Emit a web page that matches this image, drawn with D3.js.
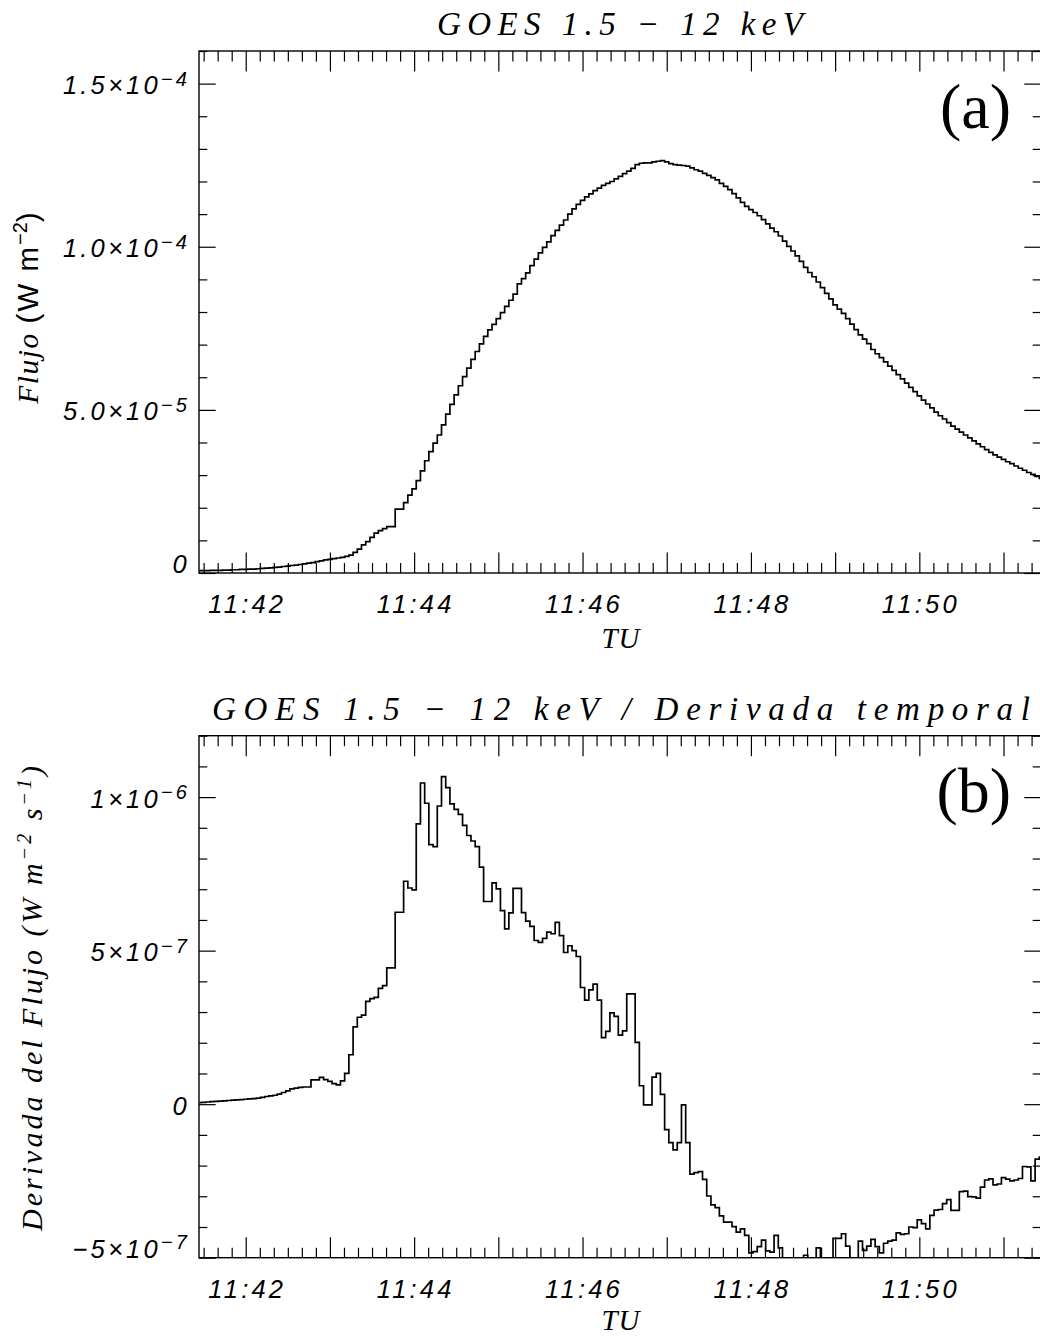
<!DOCTYPE html>
<html><head><meta charset="utf-8">
<script src="https://cdn.jsdelivr.net/npm/d3@7"></script>
<style>body{margin:0;background:#fff}svg{display:block}</style>
</head><body>
<svg id="c" width="1040" height="1336"></svg>
<script>
// ---- data ----
// GOES 3-s cadence samples, first sample at 11:41:27 UT
const startSecondsAfter1141 = 27;
const cadenceSeconds = 3;
// Panel (a): flux, units of 1e-5 W m^-2
const fluxA = [
0.07,0.07,0.07,0.08,0.08,0.08,0.09,0.09,0.10,0.10,0.11,0.11,0.12,0.12,0.13,0.14,0.15,0.16,0.17,0.18,
0.20,0.21,0.23,0.24,0.26,0.28,0.30,0.32,0.35,0.37,0.40,0.42,0.44,0.46,0.48,0.51,0.55,
0.63,0.73,0.86,0.96,1.09,1.22,1.30,1.36,1.42,1.42,
1.96,1.96,2.16,2.39,2.58,2.83,3.13,3.44,3.72,3.98,4.23,4.54,4.87,5.17,5.46,5.74,6.02,6.28,6.55,6.79,7.02,7.25,7.45,
7.62,7.80,7.98,8.17,8.36,8.55,8.86,
9.02,9.20,9.42,9.62,9.81,9.98,10.15,10.34,10.50,10.66,10.82,11.00,11.16,11.30,11.42,11.53,11.62,11.72,11.80,11.88,
11.94,12.00,12.08,12.16,12.24,12.32,12.40,12.52,12.56,12.57,12.57,12.60,12.62,12.64,12.60,12.55,12.52,12.50,12.49,12.47,
12.42,12.36,12.32,12.25,12.19,12.12,12.05,11.94,11.85,11.75,11.63,11.50,11.36,11.24,11.14,11.05,10.95,10.83,10.70,10.57,
10.46,10.33,10.17,10.01,9.87,9.72,9.55,9.37,9.21,9.08,8.92,8.75,8.57,8.40,8.22,8.09,7.96,7.80,7.63,7.46,
7.30,7.17,7.03,6.85,6.72,6.60,6.47,6.34,6.21,6.08,5.95,5.82,5.69,5.56,5.43,5.30,5.18,5.06,4.93,4.82,
4.72,4.61,4.50,4.41,4.32,4.23,4.14,4.05,3.96,3.87,3.78,3.70,3.62,3.55,3.48,3.41,3.35,3.28,3.21,3.15,
3.08,3.02,2.96,2.90
];
// Panel (b): time derivative, units of 1e-7 W m^-2 s^-1
const derivB = [
0.05,0.06,0.07,0.08,0.09,0.10,0.11,0.12,0.13,0.14,0.15,0.16,0.17,0.18,0.20,0.22,0.25,0.27,0.29,0.33,0.38,0.43,0.50,0.52,0.55,0.56,0.56,
0.79,0.79,0.87,0.80,0.74,0.67,0.63,0.76,1.00,1.61,2.52,2.83,2.90,3.35,3.44,3.48,3.77,3.86,4.44,4.44,
6.25,6.25,7.26,7.04,6.98,9.13,10.46,9.80,8.45,8.39,9.71,10.67,10.31,9.78,9.60,9.44,9.08,8.75,8.57,8.39,
7.72,6.60,6.60,7.21,7.01,6.30,5.71,6.23,7.03,7.03,6.24,5.96,5.79,5.33,5.27,5.40,5.60,5.55,5.92,5.49,
4.94,5.16,5.00,4.81,3.80,3.39,3.72,3.91,3.39,2.17,2.37,2.97,2.86,2.25,2.39,3.59,3.59,2.01,0.60,-0.02,
-0.02,0.88,1.00,0.32,-0.83,-1.25,-1.49,-1.25,-0.02,-1.25,-2.28,-2.23,-2.20,-2.45,-2.99,-3.28,-3.37,-3.64,-3.84,-3.84,
-3.99,-4.17,-4.06,-4.27,-4.84,-4.80,-4.64,-4.43,-4.78,-4.82,-4.27,-4.68,-5.3,-5.4,-5.1,-5.5,-5.3,-4.92,-5.2,-5.4,
-4.68,-5.3,-5.5,-5.2,-4.37,-4.37,-4.22,-4.62,-5.3,-5.3,-4.46,-4.76,-4.62,-4.40,-4.64,-4.84,-4.53,-4.46,-4.43,-4.19,
-4.24,-4.22,-4.0,-4.02,-3.77,-3.89,-4.06,-3.62,-3.45,-3.43,-3.24,-3.11,-3.46,-3.46,-2.85,-2.83,-3.01,-3.02,-3.06,-2.70,
-2.47,-2.43,-2.63,-2.60,-2.39,-2.44,-2.50,-2.47,-2.42,-2.03,-2.04,-2.50,-1.79,-1.72
];
const xTickMinutes = [42, 44, 46, 48, 50];
const xTickLabels = ["11:42", "11:44", "11:46", "11:48", "11:50"];
const yTicksA = [0, 5, 10, 15];              // units 1e-5
const yTickLabelsA = [["0",""], ["5.0×10","−5"], ["1.0×10","−4"], ["1.5×10","−4"]];
const yTicksB = [-5, 0, 5, 10];              // units 1e-7
const yTickLabelsB = [["−5×10","−7"], ["0",""], ["5×10","−7"], ["1×10","−6"]];

// ---- drawing ----
const svg = d3.select("#c");
const SERIF = "'Liberation Serif','DejaVu Serif',serif";
const SANS = "'Liberation Sans','DejaVu Sans',sans-serif";
const xDomainSec = [26.7, 626.7];
const L = 199, R = 1041;

function panel(opt) {
  const x = d3.scaleLinear().domain(xDomainSec).range([L, R]);
  const y = d3.scaleLinear().domain(opt.yDomain).range([opt.bottom, opt.top]);
  const g = svg.append("g");
  const id = "clip" + opt.name;
  svg.append("clipPath").attr("id", id).append("rect")
    .attr("x", L).attr("y", opt.top).attr("width", R - L).attr("height", opt.bottom - opt.top);

  const data = opt.values.map((v, i) => ({t: startSecondsAfter1141 + cadenceSeconds * i, v}));
  const line = d3.line().x(d => x(d.t)).y(d => y(d.v)).curve(d3.curveStep);
  g.append("path").datum(data).attr("d", line).attr("fill", "none")
    .attr("stroke", "#000").attr("stroke-width", 1.7).attr("clip-path", `url(#${id})`);

  // x ticks
  const minor = d3.range(30, 627, 10).filter(s => s % 60 !== 0);
  const major = d3.range(60, 627, 60);
  const axB = (vals, len) => g.append("g").attr("transform", `translate(0,${opt.bottom})`)
      .call(d3.axisBottom(x).tickValues(vals).tickSize(-len).tickFormat(""))
      .call(s => s.select(".domain").remove());
  const axT = (vals, len) => g.append("g").attr("transform", `translate(0,${opt.top})`)
      .call(d3.axisTop(x).tickValues(vals).tickSize(-len).tickFormat(""))
      .call(s => s.select(".domain").remove());
  axB(minor, 10); axB(major, 20.5); axT(minor, 10.5); axT(major, 20.5);

  // y ticks
  const [y0, y1] = opt.yDomain;
  const yMinor = d3.range(Math.ceil(y0), y1 + 0.001, opt.minorStep).filter(v => opt.yTicks.indexOf(v) < 0);
  const axL = (vals, len) => g.append("g").attr("transform", `translate(${L},0)`)
      .call(d3.axisLeft(y).tickValues(vals).tickSize(-len).tickFormat(""))
      .call(s => s.select(".domain").remove());
  const axR = (vals, len) => g.append("g").attr("transform", `translate(${R},0)`)
      .call(d3.axisRight(y).tickValues(vals).tickSize(-len).tickFormat(""))
      .call(s => s.select(".domain").remove());
  axL(yMinor, 8.3); axL(opt.yTicks, 16.7); axR(yMinor, 8.3); axR(opt.yTicks, 16.7);
  g.selectAll(".tick line").attr("stroke", "#000").attr("stroke-width", 1.2);

  // frame
  g.append("rect").attr("x", L).attr("y", opt.top).attr("width", R - L).attr("height", opt.bottom - opt.top)
    .attr("fill", "none").attr("stroke", "#000").attr("stroke-width", 1.4);

  // x tick labels
  g.selectAll(".xl").data(xTickMinutes).join("text")
    .attr("x", (m, i) => x((m - 41) * 60) + 1.5).attr("y", opt.bottom + 40)
    .attr("text-anchor", "middle").attr("font-family", SANS).attr("font-style", "italic")
    .attr("font-size", 25.5).attr("letter-spacing", 3.2).text((m, i) => xTickLabels[i]);

  // y tick labels
  opt.yTicks.forEach((v, i) => {
    const [m, e] = opt.yLabels[i];
    const yy = (v === y0) ? opt.bottom : y(v) + 10.5;
    const t = g.append("text").attr("x", 190).attr("y", yy).attr("text-anchor", "end")
      .attr("font-family", SANS).attr("font-style", "italic").attr("font-size", 25.5)
      .attr("letter-spacing", 3.2);
    t.append("tspan").text(m);
    if (e) t.append("tspan").attr("dy", -8.5).attr("font-size", 20).text(e);
  });

  // title
  g.append("text").attr("x", opt.titleX).attr("y", opt.titleY).attr("text-anchor", "middle")
    .attr("font-family", SERIF).attr("font-style", "italic").attr("font-size", 33)
    .attr("textLength", opt.titleLen).attr("lengthAdjust", "spacing").text(opt.title);

  // panel letter
  g.append("text").attr("x", 1011).attr("y", opt.letterY).attr("text-anchor", "end")
    .attr("font-family", SERIF).attr("font-size", 64).text(opt.letter);

  // x title
  g.append("text").attr("x", 621).attr("y", opt.titleXY).attr("text-anchor", "middle")
    .attr("font-family", SERIF).attr("font-style", "italic").attr("font-size", 29)
    .attr("letter-spacing", 1).text("TU");
  return g;
}

const gA = panel({name: "A", top: 51, bottom: 573, yDomain: [0, 16], minorStep: 1, values: fluxA,
  yTicks: yTicksA, yLabels: yTickLabelsA, title: "GOES 1.5 − 12 keV", titleX: 620, titleY: 35, titleLen: 366,
  letter: "(a)", letterY: 128, titleXY: 648});
const gB = panel({name: "B", top: 735.7, bottom: 1257.7, yDomain: [-5, 12], minorStep: 1, values: derivB,
  yTicks: yTicksB, yLabels: yTickLabelsB, title: "GOES 1.5 − 12 keV  /  Derivada temporal", titleX: 621,
  titleY: 720, titleLen: 818, letter: "(b)", letterY: 812, titleXY: 1330});

// y axis titles
const ta = gA.append("text").attr("transform", "translate(38,308) rotate(-90)").attr("text-anchor", "middle")
  .attr("font-size", 29.5);
ta.append("tspan").attr("font-family", SERIF).attr("font-style", "italic").attr("letter-spacing", 1.5).text("Flujo ");
ta.append("tspan").attr("font-family", SANS).attr("letter-spacing", 2).text("(W m");
ta.append("tspan").attr("font-family", SANS).attr("font-size", 20).attr("dy", -11).text("−2");
ta.append("tspan").attr("font-family", SANS).attr("dy", 11).text(")");

const tb = gB.append("text").attr("transform", "translate(42,997) rotate(-90)").attr("text-anchor", "middle")
  .attr("font-family", SERIF).attr("font-style", "italic").attr("font-size", 30).attr("letter-spacing", 3);
tb.append("tspan").text("Derivada del Flujo (W m");
tb.append("tspan").attr("font-size", 20).attr("dy", -11).text("−2");
tb.append("tspan").attr("dy", 11).text(" s");
tb.append("tspan").attr("font-size", 20).attr("dy", -11).text("−1");
tb.append("tspan").attr("dy", 11).text(")");
</script>
</body></html>
